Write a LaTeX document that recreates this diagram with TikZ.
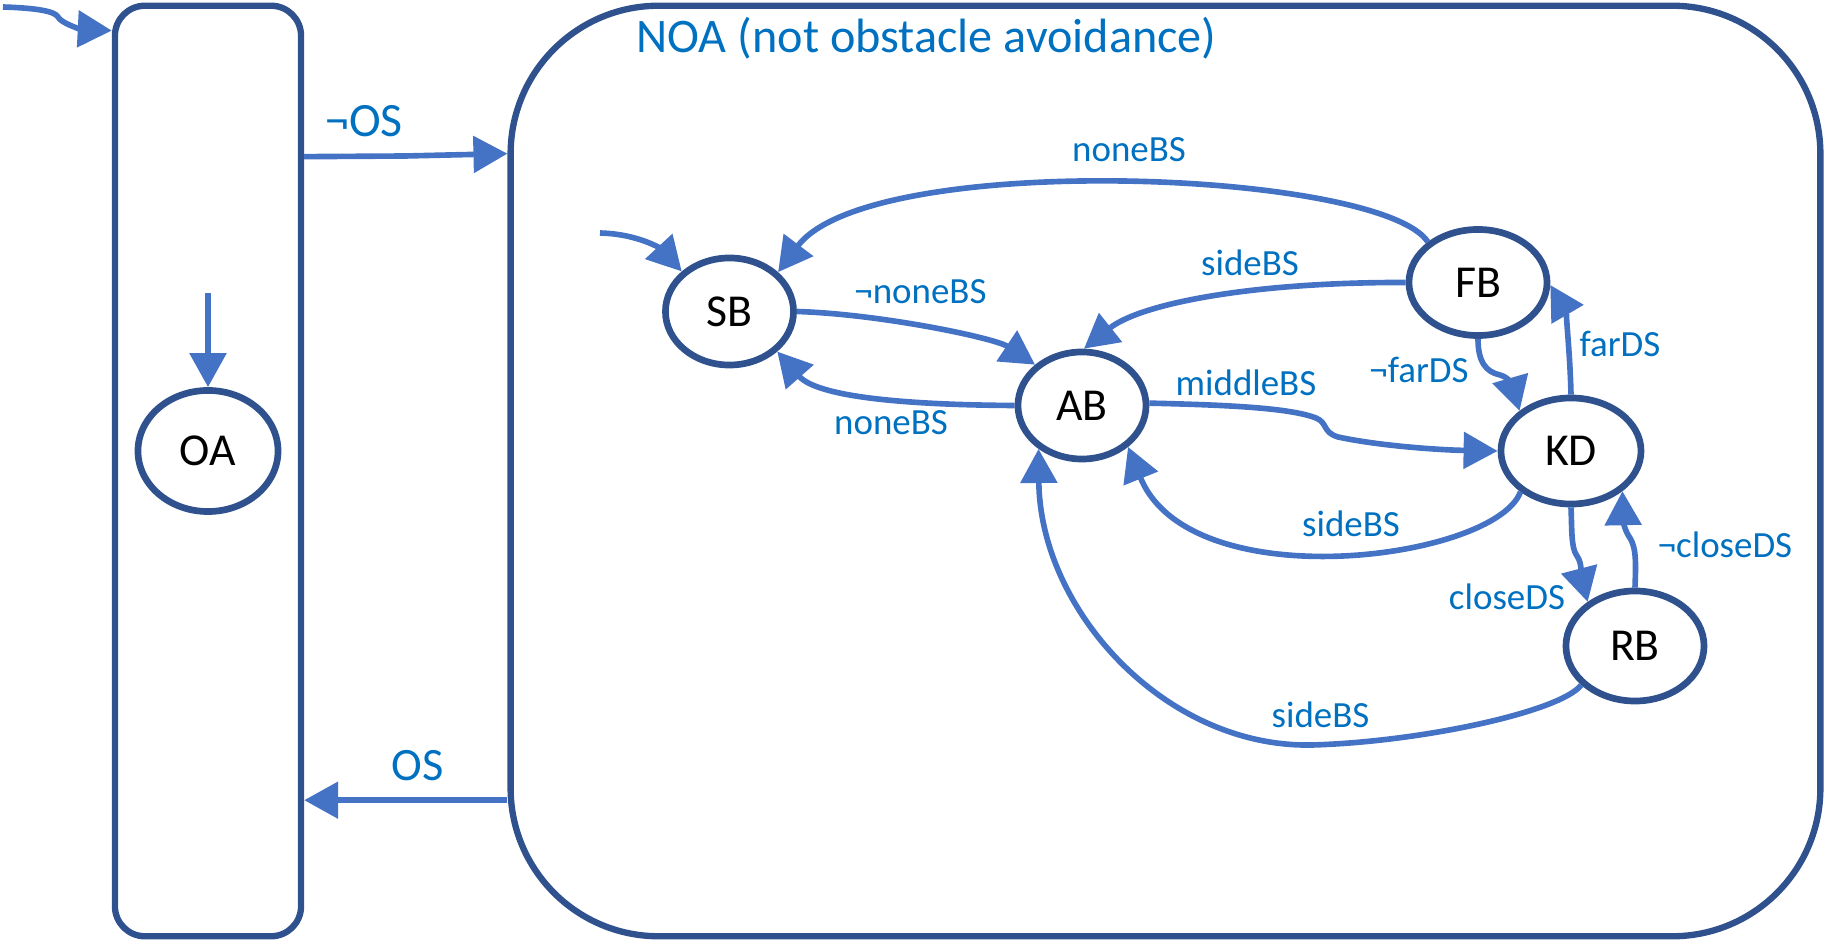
\documentclass[tikz,border=0pt]{standalone}
\usepackage{fontspec}
\setmainfont{Carlito}
\usetikzlibrary{arrows.meta,shapes.geometric}
\definecolor{bord}{RGB}{47,82,143}
\definecolor{arr}{RGB}{68,114,196}
\definecolor{lab}{RGB}{0,112,192}
\tikzset{
  statenode/.style={ellipse, draw=bord, line width=1.9pt, fill=white, inner sep=0pt, font=\fontsize{13}{15}\selectfont},
  boxnode/.style={draw=bord, line width=1.8pt, inner sep=0pt},
  trans/.style={draw=arr, line width=1.6pt, -{Triangle[length=0.34cm,width=0.36cm]}},
  lbl/.style={text=lab, inner sep=0pt, font=\fontsize{10.5}{12}\selectfont},
  biglbl/.style={text=lab, inner sep=0pt, font=\fontsize{13.2}{15}\selectfont},
}
\begin{document}
\begin{tikzpicture}[x=0.01cm, y=-0.01cm]
\useasboundingbox (0,0) rectangle (1826,940);
% containers
\node[boxnode, rounded corners=0.30cm, minimum width=1.86cm, minimum height=9.30cm] (OAbox) at (208,471) {};
\node[boxnode, rounded corners=1.48cm, minimum width=13.09cm, minimum height=9.30cm] (NOAbox) at (1165.5,471) {};
\node[biglbl, font=\fontsize{13.7}{16}\selectfont] (tNOA) at (926.5,38.5) {NOA (not obstacle avoidance)};
% states
\node[statenode, minimum width=1.40cm, minimum height=1.21cm] (OA) at (208,451) {OA};
\node[statenode, minimum width=1.28cm, minimum height=1.07cm] (SB) at (729.5,311.5) {SB};
\node[statenode, minimum width=1.28cm, minimum height=1.07cm] (AB) at (1082,405.5) {AB};
\node[statenode, minimum width=1.38cm, minimum height=1.06cm] (FB) at (1478,282.5) {FB};
\node[statenode, minimum width=1.40cm, minimum height=1.06cm] (KD) at (1571,451) {KD};
\node[statenode, minimum width=1.38cm, minimum height=1.10cm] (RB) at (1635,646) {RB};
% free ends
\coordinate (iOA) at (3,7);
\coordinate (iOAin) at (208,293);
\coordinate (iSB) at (600,233);
% outer transitions
\draw[trans] (iOA) .. controls (35,8) and (55,11) .. (58,17) .. controls (61,23) and (80,29) .. ([yshift=-0.28cm]OAbox.north west);
\draw[trans] ([yshift=-1.54cm]OAbox.north east) -- (405,156) -- ([yshift=-1.51cm]NOAbox.north west);
\draw[trans] ([yshift=-3.29cm]NOAbox.west) -- ([yshift=-3.29cm]OAbox.east);
\draw[trans] (iOAin) -- (OA.north);
\node[biglbl, font=\fontsize{13.6}{16}\selectfont] (lnOS) at (364,121) {¬OS};
\node[biglbl] (lOS) at (418,766) {OS};
% inner transitions
\draw[trans] (iSB) .. controls (640,234) and (662,250) .. (SB.140);
\draw[trans] (FB.141) .. controls (1380,170) and (870,150) .. (SB.39);
\draw[trans] (FB.180) .. controls (1250,282) and (1140,304) .. (AB.88);
\draw[trans] (SB.0) .. controls (880,314) and (995,338) .. (AB.139);
\draw[trans] (AB.180) .. controls (930,405) and (820,400) .. (SB.-40);
\draw[trans] (AB.2) .. controls (1230,405) and (1290,408) .. (1316,418) .. controls (1328,423) and (1322,432) .. (1338,437) .. controls (1380,446) and (1440,450) .. (KD.180);
\draw[trans] (FB.270) .. controls (1478,362) and (1486,372) .. (1500,375) .. controls (1511,378) and (1513,388) .. (KD.142);
\draw[trans] (KD.90) .. controls (1570,350) and (1565,310) .. (FB.-2);
\draw[trans] (KD.219) .. controls (1495,560) and (1190,600) .. (AB.-42);
\draw[trans] (KD.270) .. controls (1572,530) and (1571,548) .. (1577,556) .. controls (1582,562) and (1582,580) .. (RB.137);
\draw[trans] (RB.90) .. controls (1636,560) and (1636,548) .. (1630,538) .. controls (1624,530) and (1623,518) .. (KD.-38);
\draw[trans] (RB.216.5) .. controls (1560,712) and (1420,742) .. (1312,745) .. controls (1165,748) and (1040,610) .. (AB.225);
% labels
\node[lbl] (l1) at (1129,150) {noneBS};
\node[lbl] (l2) at (1250,263) {sideBS};
\node[lbl] (l3) at (920.5,292) {¬noneBS};
\node[lbl] (l4) at (891,423) {noneBS};
\node[lbl] (l5) at (1246,383) {middleBS};
\node[lbl] (l6) at (1419,370) {¬farDS};
\node[lbl] (l7) at (1620,344) {farDS};
\node[lbl] (l8) at (1351,524) {sideBS};
\node[lbl] (l9) at (1507,597) {closeDS};
\node[lbl] (l10) at (1725,545) {¬closeDS};
\node[lbl] (l11) at (1320.5,715) {sideBS};
\end{tikzpicture}
\end{document}
